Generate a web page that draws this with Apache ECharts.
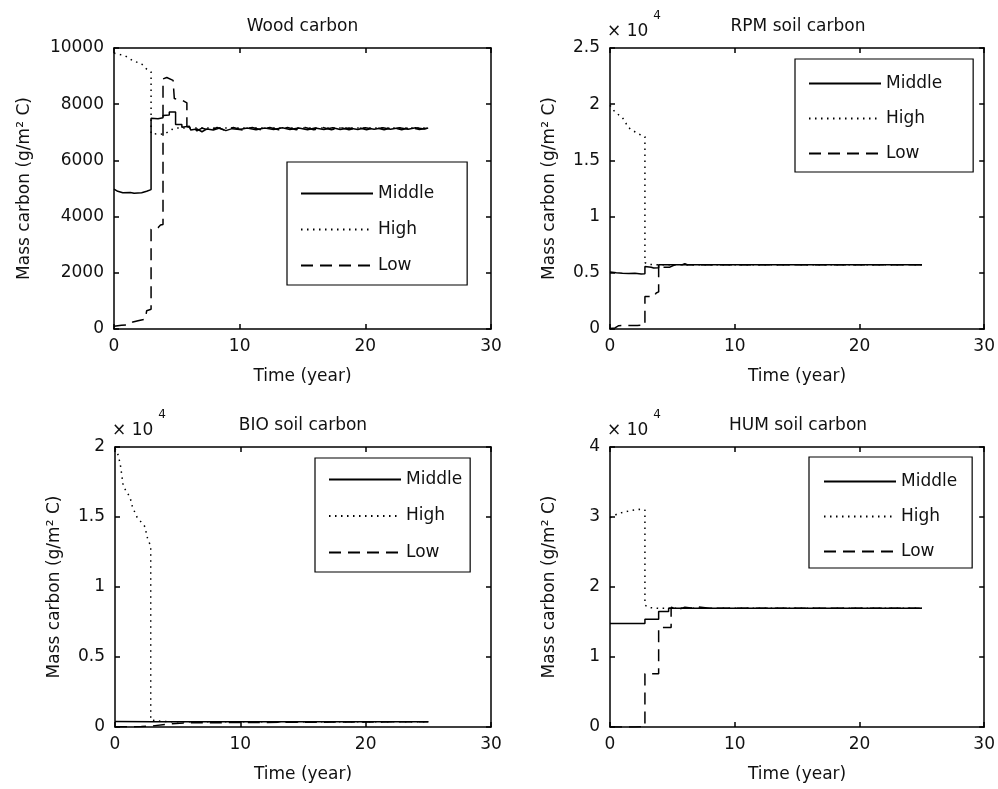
<!DOCTYPE html>
<html><head><meta charset="utf-8">
<script src="https://cdn.jsdelivr.net/npm/echarts@6/dist/echarts.min.js"></script>
<style>html,body{margin:0;padding:0;background:#fff}#c{width:998px;height:789px}</style>
</head><body><div id="c"></div><script>
// ---- data: [time (year), mass carbon (g/m2 C)] ----
const seriesNames = ['Middle', 'High', 'Low'];
const panelTitles = ['Wood carbon', 'RPM soil carbon', 'BIO soil carbon', 'HUM soil carbon'];
const xTicks = [0, 10, 20, 30];
const yTicks1 = [0, 2000, 4000, 6000, 8000, 10000];
const yTicks2 = [0, 5000, 10000, 15000, 20000, 25000];
const yTicks3 = [0, 5000, 10000, 15000, 20000];
const yTicks4 = [0, 10000, 20000, 30000, 40000];

const woodMiddle = [[0,4980],[0.3,4900],[0.7,4850],[1.3,4860],[1.6,4830],[2.2,4850],[2.6,4900],[2.95,4960],[2.95,7500],[3.5,7480],[3.9,7520],[3.9,7600],[4.4,7620],[4.4,7720],[4.9,7720],[4.9,7280],[5.4,7280],[5.4,7180],[6.0,7220],[6.1,7080],[6.6,7120],[7.0,7020],[7.4,7120],[7.9,7080],[8.4,7150],[8.9,7060],[9.4,7130],[10,7100],[10.6,7150],[11.3,7090],[12,7150],[12.7,7100],[13.4,7160],[14,7100],[14.7,7150],[15.4,7090],[16,7150],[16.7,7100],[17.4,7160],[18,7100],[18.7,7150],[19.4,7100],[20,7160],[20.7,7110],[21.4,7160],[22,7110],[22.7,7160],[23.4,7110],[24,7160],[24.7,7120],[25,7150]];
const woodHigh = [[0,9820],[0.9,9720],[1.5,9550],[2.2,9430],[2.7,9200],[2.95,9150],[2.95,6950],[4.0,6930],[4.6,7100],[5.0,7150],[25,7150]];
const woodLow = [[0,100],[0.6,130],[1.2,150],[1.5,250],[2.0,300],[2.5,350],[2.6,650],[2.95,700],[2.95,3550],[3.5,3600],[3.7,3700],[3.9,3720],[3.9,8900],[4.2,8950],[4.7,8850],[4.8,8200],[5.4,8150],[5.8,8050],[5.8,7200],[6.3,7150],[6.6,7050],[7.0,7150],[7.6,7060],[8.2,7170],[8.8,7080],[9.5,7170],[10.2,7080],[11,7170],[11.7,7090],[12.4,7170],[13.1,7090],[13.8,7170],[14.5,7090],[15.2,7170],[15.9,7090],[16.6,7170],[17.3,7090],[18,7170],[18.7,7090],[19.4,7170],[20.1,7090],[20.8,7170],[21.5,7090],[22.2,7170],[22.9,7090],[23.6,7170],[24.3,7100],[25,7150]];

const rpmMiddle = [[0,5070],[0.5,5000],[1.0,4960],[1.5,4930],[2.0,4950],[2.5,4900],[2.8,4920],[2.8,5550],[3.3,5500],[3.5,5430],[3.9,5450],[3.9,5720],[5.8,5720],[6.0,5800],[6.2,5720],[25,5720]];
const rpmHigh = [[0,19900],[0.4,19300],[1.0,18800],[1.5,17900],[2.2,17400],[2.8,17100],[2.8,5900],[3.1,5750],[3.9,5720],[25,5720]];
const rpmLow = [[0,50],[0.4,100],[0.7,300],[2.2,320],[2.8,350],[2.8,2900],[3.3,2880],[3.5,2850],[3.7,3200],[3.9,3300],[3.9,5720],[4.0,5500],[4.8,5500],[5.2,5720],[25,5720]];

const bioMiddle = [[0,400],[3,380],[25,380]];
const bioHigh = [[0,19900],[0.27,19400],[0.45,18600],[0.66,17200],[1.2,16400],[1.4,15700],[1.75,15000],[2.4,14300],[2.55,13600],[2.85,12900],[2.85,500],[3.5,420],[4.5,380],[25,380]];
const bioLow = [[0,0],[0.5,20],[2.1,30],[2.85,60],[2.85,190],[4.1,200],[4.1,270],[5.7,300],[5.7,380],[25,380]];

const humMiddle = [[0,14800],[2.8,14800],[2.8,15400],[3.9,15400],[3.9,16500],[4.7,16500],[4.7,16950],[25,16950]];
const humHigh = [[0,29900],[0.66,30500],[1.6,30900],[2.34,31100],[2.8,31000],[2.8,17400],[3.14,17050],[4,16950],[25,16950]];
const humLow = [[0,50],[0.5,0],[2.0,0],[2.8,50],[2.8,7600],[3.9,7600],[3.9,14200],[4.9,14200],[4.9,17100],[5.5,16800],[6,17100],[6.5,17000],[7,17150],[7.8,17000],[8,16950],[25,16950]];

const panelData = [
  [woodMiddle, woodHigh, woodLow],
  [rpmMiddle, rpmHigh, rpmLow],
  [bioMiddle, bioHigh, bioLow],
  [humMiddle, humHigh, humLow]
];
const panelYTicks = [yTicks1, yTicks2, yTicks3, yTicks4];
const panelYScale = [1, 1e4, 1e4, 1e4];

// ---- layout / style ----
const FONT = 'DejaVu Sans';
const INK = '#000';
const TXT = '#111';
const grids = [
  {left:114, top:48, width:377, height:281},
  {left:610, top:48, width:376, height:281},
  {left:115, top:447, width:376, height:280},
  {left:610, top:447, width:376, height:280}
];
const yNameGap = [81, 52, 52, 52];
const legendPos = [
  {left:287, top:162, padding:[23,33,11,13], itemGap:19},
  {left:795, top:59, padding:[16,31,10,13], itemGap:18},
  {left:315, top:458, padding:[13,8,11,13], itemGap:19.5},
  {left:809, top:457, padding:[16,15,8,14], itemGap:18}
];
const lineTypes = ['solid', [1.5,4.5], [12,7]];

const axisLineStyle = {show:true, onZero:false, lineStyle:{color:INK, width:1.5}};
const tickStyle = {show:true, inside:true, length:5, lineStyle:{color:INK, width:1.5}};
const labelFont = {color:TXT, fontSize:17, fontFamily:FONT};

const xAxes = [], yAxes = [], series = [], titles = [], legends = [];
grids.forEach((g, i) => {
  const yt = panelYTicks[i];
  const ymin = yt[0], ymax = yt[yt.length-1], yint = yt[1]-yt[0];
  const sc = panelYScale[i];
  xAxes.push({gridIndex:i, type:'value', min:xTicks[0], max:xTicks[xTicks.length-1], interval:xTicks[1]-xTicks[0],
    axisLine:axisLineStyle, axisTick:tickStyle, splitLine:{show:false},
    axisLabel:Object.assign({margin:9}, labelFont),
    name:'Time (year)', nameLocation:'middle', nameGap:39, nameTextStyle:labelFont});
  yAxes.push({gridIndex:i, type:'value', min:ymin, max:ymax, interval:yint,
    axisLine:axisLineStyle, axisTick:tickStyle, splitLine:{show:false},
    axisLabel:Object.assign({margin:10, formatter:v => String(v/sc)}, labelFont),
    name:'Mass carbon (g/m² C)', nameLocation:'middle', nameGap:yNameGap[i], nameTextStyle:labelFont});
  titles.push({text:panelTitles[i], left:g.left + g.width/2, top:g.top - 30, textAlign:'center', padding:0,
    textStyle:{fontSize:17, fontWeight:'normal', fontFamily:FONT, color:TXT}});
  const L = legendPos[i];
  legends.push({orient:'vertical', left:L.left, top:L.top, padding:L.padding, itemGap:L.itemGap,
    itemWidth:72, itemHeight:14, borderColor:INK, borderWidth:1.2, backgroundColor:'#fff', borderRadius:0,
    itemStyle:{opacity:0, color:'transparent', borderWidth:0},
    selectedMode:false, textStyle:labelFont, data:seriesNames});
  panelData[i].forEach((d, k) => {
    series.push({type:'line', name:seriesNames[k], xAxisIndex:i, yAxisIndex:i, data:d,
      symbol:'none', showSymbol:false, clip:true,
      lineStyle:{color:INK, width:1.5, type:lineTypes[k]}, itemStyle:{color:INK}});
  });
});
// mirrored axes for box ticks (top / right)
grids.forEach((g, i) => {
  const yt = panelYTicks[i];
  xAxes.push({gridIndex:i, type:'value', position:'top', min:xTicks[0], max:xTicks[xTicks.length-1], interval:xTicks[1]-xTicks[0],
    axisLine:axisLineStyle, axisTick:tickStyle, axisLabel:{show:false}, splitLine:{show:false}});
  yAxes.push({gridIndex:i, type:'value', position:'right', min:yt[0], max:yt[yt.length-1], interval:yt[1]-yt[0],
    axisLine:axisLineStyle, axisTick:tickStyle, axisLabel:{show:false}, splitLine:{show:false}});
});

// exponent markers (x 10^4)
const graphic = [];
[1,2,3].forEach(i => {
  const g = grids[i];
  graphic.push({type:'text', x:g.left - 3, y:g.top - 16, style:{text:'× 10', fill:TXT, font:'17px "DejaVu Sans"', align:'left', verticalAlign:'middle'}});
  graphic.push({type:'text', x:g.left + 47, y:g.top - 32, style:{text:'4', fill:TXT, font:'12px "DejaVu Sans"', align:'center', verticalAlign:'middle'}});
});

const chart = echarts.init(document.getElementById('c'), null, {renderer:'canvas'});
chart.setOption({
  animation:false,
  backgroundColor:'#fff',
  title:titles,
  legend:legends,
  grid:grids,
  xAxis:xAxes,
  yAxis:yAxes,
  series:series,
  graphic:graphic
});
</script></body></html>
